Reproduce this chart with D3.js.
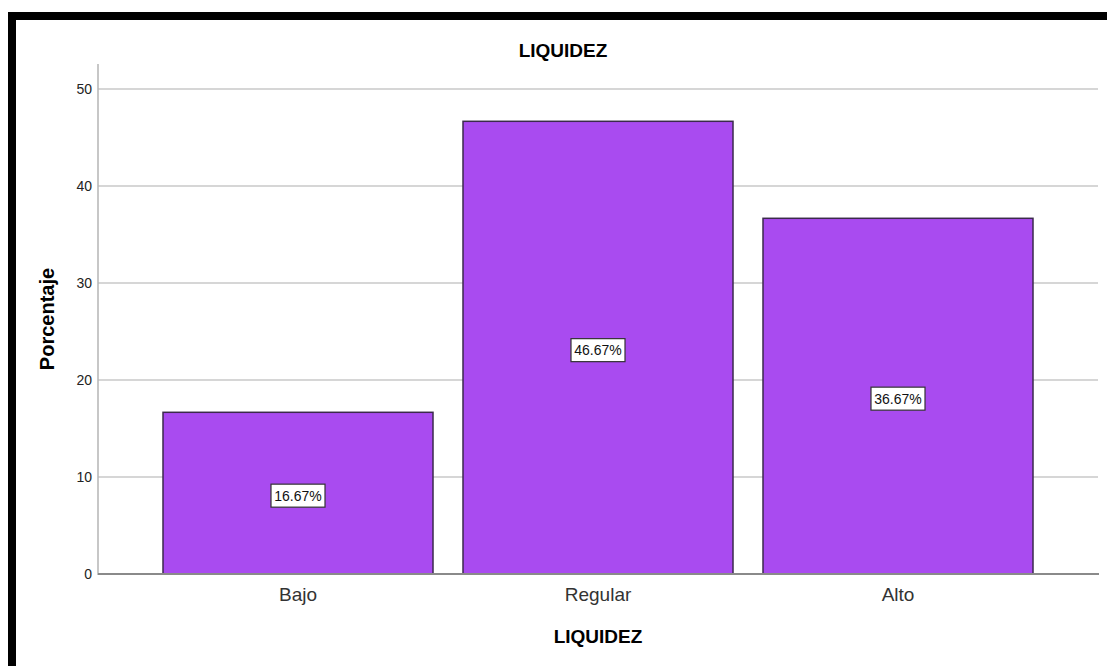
<!DOCTYPE html>
<html>
<head>
<meta charset="utf-8">
<script src="https://cdn.jsdelivr.net/npm/d3@7"></script>
<style>
  body { margin: 0; background: #fff; }
  svg { display: block; font-family: Arial, "Liberation Sans", sans-serif; }
</style>
</head>
<body>
<svg id="chart"></svg>
<script>
// Data
const categories = ['Bajo', 'Regular', 'Alto'];
const percents = [16.67, 46.67, 36.67];
const yTicks = [0, 10, 20, 30, 40, 50];
const chartTitle = 'LIQUIDEZ';
const xTitle = 'LIQUIDEZ';
const yTitle = 'Porcentaje';

const width = 1107;
const height = 666;
const barColor = '#a94bf0';

const svg = d3.select('#chart')
  .attr('width', width)
  .attr('height', height);

// black frame (top + left)
svg.append('rect').attr('x', 8).attr('y', 12).attr('width', width - 8).attr('height', 8).attr('fill', '#000');
svg.append('rect').attr('x', 8).attr('y', 12).attr('width', 8).attr('height', height - 12).attr('fill', '#000');

// Scales
const xScale = d3.scaleBand()
  .domain(categories)
  .range([148, 1048])
  .paddingInner(0.1)
  .paddingOuter(0.05);

const yScale = d3.scaleLinear()
  .domain([0, 50])
  .range([574, 89]);

// gridlines
svg.append('g')
  .selectAll('line')
  .data(yTicks.filter(d => d > 0))
  .join('line')
  .attr('x1', 98)
  .attr('x2', 1098)
  .attr('y1', d => yScale(d))
  .attr('y2', d => yScale(d))
  .attr('stroke', '#d6d6d6')
  .attr('stroke-width', 2);

// y axis
const yAxis = d3.axisLeft(yScale).tickValues(yTicks).tickSize(0).tickPadding(6);
const yAxisGroup = svg.append('g')
  .attr('transform', 'translate(98,0)')
  .call(yAxis);
yAxisGroup.select('.domain').remove();
yAxisGroup.selectAll('text')
  .attr('font-size', 14)
  .attr('font-family', 'Arial, "Liberation Sans", sans-serif')
  .attr('fill', '#222');
svg.append('line')
  .attr('x1', 98).attr('x2', 98)
  .attr('y1', 64).attr('y2', 575)
  .attr('stroke', '#b4b4b4')
  .attr('stroke-width', 1.5);

// bars
svg.append('g')
  .selectAll('rect')
  .data(categories)
  .join('rect')
  .attr('x', d => xScale(d))
  .attr('y', (d, i) => yScale(percents[i]))
  .attr('width', xScale.bandwidth())
  .attr('height', (d, i) => yScale(0) - yScale(percents[i]))
  .attr('fill', barColor)
  .attr('stroke', '#3b2a4c')
  .attr('stroke-width', 1.5);

// x axis
const xAxis = d3.axisBottom(xScale).tickSize(0).tickPadding(14);
const xAxisGroup = svg.append('g')
  .attr('transform', `translate(0,${yScale(0)})`)
  .call(xAxis);
xAxisGroup.select('.domain').remove();
xAxisGroup.selectAll('text')
  .attr('font-size', 19)
  .attr('font-family', 'Arial, "Liberation Sans", sans-serif')
  .attr('fill', '#333');
svg.append('line')
  .attr('x1', 98).attr('x2', 1099)
  .attr('y1', yScale(0)).attr('y2', yScale(0))
  .attr('stroke', '#8a8a8a')
  .attr('stroke-width', 2);

// value labels
const labels = svg.append('g')
  .selectAll('g')
  .data(categories)
  .join('g')
  .attr('transform', (d, i) => `translate(${xScale(d) + xScale.bandwidth() / 2},${yScale(percents[i] / 2) + 2})`);

labels.append('rect')
  .attr('x', -27)
  .attr('y', -11)
  .attr('width', 54)
  .attr('height', 23)
  .attr('fill', '#fff')
  .attr('stroke', '#333')
  .attr('stroke-width', 1.2);

labels.append('text')
  .attr('text-anchor', 'middle')
  .attr('dy', '0.4em')
  .attr('font-size', 14)
  .attr('fill', '#111')
  .text((d, i) => `${percents[i].toFixed(2)}%`);

// titles
svg.append('text')
  .attr('x', 563)
  .attr('y', 57)
  .attr('text-anchor', 'middle')
  .attr('font-size', 19)
  .attr('font-weight', 'bold')
  .text(chartTitle);

svg.append('text')
  .attr('x', 598)
  .attr('y', 643)
  .attr('text-anchor', 'middle')
  .attr('font-size', 19)
  .attr('font-weight', 'bold')
  .text(xTitle);

svg.append('text')
  .attr('transform', 'rotate(-90)')
  .attr('x', -319)
  .attr('y', 54)
  .attr('text-anchor', 'middle')
  .attr('font-size', 20)
  .attr('font-weight', 'bold')
  .text(yTitle);
</script>
</body>
</html>
